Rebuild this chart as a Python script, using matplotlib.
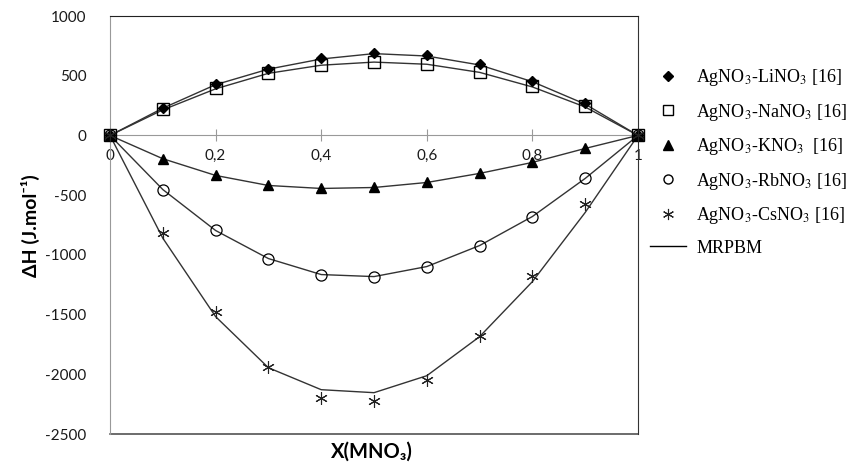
import matplotlib
matplotlib.use("Agg")
import matplotlib.pyplot as plt
from matplotlib.lines import Line2D

plt.rcParams['mathtext.fontset'] = 'stix'

x = [0, 0.1, 0.2, 0.3, 0.4, 0.5, 0.6, 0.7, 0.8, 0.9, 1.0]

# experimental points
li_exp = [0, 232, 430, 560, 645, 690, 670, 595, 455, 268, 0]
na_exp = [0, 218, 394, 525, 592, 618, 600, 533, 410, 243, 0]
k_exp = [0, -195, -335, -419, -444, -436, -394, -318, -226, -109, 0]
rb_exp = [0, -453, -796, -1031, -1165, -1182, -1098, -922, -679, -360, 0]
cs_exp = [0, -813, -1475, -1936, -2196, -2221, -2045, -1676, -1174, -578, 0]

# model (MRPBM) curves
li_mod = [0, 228, 425, 555, 640, 685, 665, 590, 450, 262, 0]
na_mod = [0, 214, 390, 520, 588, 614, 596, 528, 406, 238, 0]
k_mod = [0, -195, -335, -419, -444, -436, -394, -318, -226, -109, 0]
rb_mod = [0, -453, -796, -1031, -1165, -1182, -1098, -922, -679, -360, 0]
cs_mod = [0, -860, -1517, -1945, -2129, -2154, -2012, -1685, -1224, -645, 0]

labels = [r'AgNO$_3$-LiNO$_3$ [16]', r'AgNO$_3$-NaNO$_3$ [16]',
          r'AgNO$_3$-KNO$_3$  [16]', r'AgNO$_3$-RbNO$_3$ [16]',
          r'AgNO$_3$-CsNO$_3$ [16]', 'MRPBM']
xtick_vals = [0, 0.2, 0.4, 0.6, 0.8, 1.0]
xtick_labels = ['0', '0,2', '0,4', '0,6', '0,8', '1']
ytick_vals = [1000, 500, 0, -500, -1000, -1500, -2000, -2500]

fig = plt.figure(figsize=(8.53, 4.65), dpi=100)
ax = fig.add_axes([110/853, 1-434/465, (638-110)/853, (434-16)/465])

lc = '#333333'
for m in [li_mod, na_mod, k_mod, rb_mod, cs_mod]:
    ax.plot(x, m, color=lc, lw=1.0, zorder=2)

styles = [
    dict(marker='D', ms=5.5, mfc='black', mec='black'),
    dict(marker='s', ms=8, mfc='none', mec='black', mew=1.0),
    dict(marker='^', ms=7.5, mfc='black', mec='black'),
    dict(marker='o', ms=8, mfc='none', mec='black', mew=0.9),
    dict(marker=(6, 2, 0), ms=9, mfc='none', mec='#222222', mew=0.8),
]
for d, st in zip([li_exp, na_exp, k_exp, rb_exp, cs_exp], styles):
    ax.plot(x, d, ls='none', zorder=3, clip_on=False, **st)

ax.set_xlim(0, 1)
ax.set_ylim(-2500, 1000)

ax.spines['bottom'].set_position(('data', 0))
ax.spines['bottom'].set_color('#999999')
ax.spines['left'].set_color('#999999')
ax.spines['top'].set_color('#222222')
ax.spines['right'].set_color('#333333')
ax.axhline(-2500, color='#444444', lw=1.1, clip_on=False, zorder=1)

ax.set_xticks(xtick_vals)
ax.set_xticklabels(xtick_labels)
ax.set_yticks(ytick_vals)
ax.set_yticklabels([str(v) for v in ytick_vals])
ax.tick_params(axis='x', direction='inout', length=9, color='#999999', pad=5,
               labelsize=11, labelcolor='#1a1a1a')
ax.tick_params(axis='y', length=0, pad=17, labelsize=11, labelcolor='#1a1a1a')
for t in ax.get_xticklabels() + ax.get_yticklabels():
    t.set_family(['Lato', 'DejaVu Sans'])

fig.text(30/853, 1-226/465, 'ΔH (J.mol⁻¹)', rotation=90, ha='center', va='center',
         fontsize=14, fontweight='bold', family=['Lato', 'DejaVu Sans'])
fig.text(372/853, 1-452/465, 'X(MNO₃)', ha='center', va='center',
         fontsize=14.5, fontweight='bold', family=['Lato', 'DejaVu Sans'])

handles = [
    Line2D([], [], ls='none', marker='D', ms=5, mfc='black', mec='black'),
    Line2D([], [], ls='none', marker='s', ms=7, mfc='none', mec='black'),
    Line2D([], [], ls='none', marker='^', ms=7, mfc='black', mec='black'),
    Line2D([], [], ls='none', marker='o', ms=6.5, mfc='none', mec='black'),
    Line2D([], [], ls='none', marker=(6, 2, 0), ms=8, mec='#222222', mew=0.8),
    Line2D([], [], color='black', lw=1.0),
]
leg = fig.legend(handles, labels, loc='upper left',
                 bbox_to_anchor=(650/853, 1-67/465), frameon=False,
                 prop={'family': 'Liberation Serif', 'size': 13},
                 handlelength=2.0, handletextpad=0.55, labelspacing=0.75,
                 borderpad=0, borderaxespad=0)

fig.savefig('out.png', dpi=100)
